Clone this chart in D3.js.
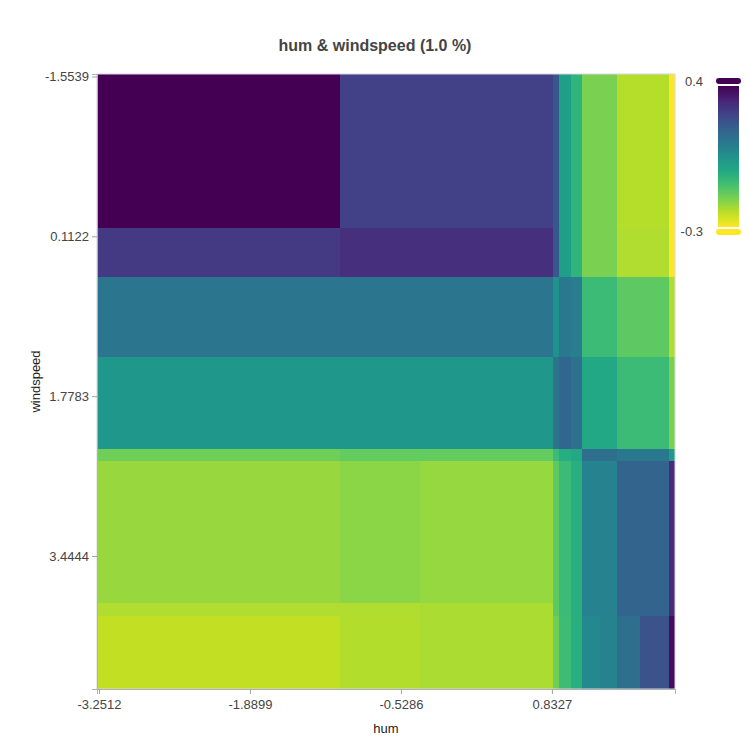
<!DOCTYPE html>
<html>
<head>
<meta charset="utf-8">
<script src="https://cdn.jsdelivr.net/npm/d3@7"></script>
<style>
    body { margin: 0; background: #fff; }
    svg text { font-family: "Liberation Sans", Arial, sans-serif; }
</style>
</head>
<body>
<svg id="chart" width="750" height="750"></svg>
<script>
/*
    hum & windspeed interaction heatmap (block cells, viridis).
*/

// bin edges
var humEdges = [-3.2692, -1.0781, -0.3567, 0.8426, 0.8967, 1.0049, 1.1041, 1.2664, 1.4197, 1.6271, 1.8886, 1.9427];
var windEdges = [-1.5800, 0.0254, 0.5362, 1.3701, 2.3291, 2.4542, 3.9345, 4.0700, 4.8310];

var humTicks = [-3.2512, -1.8899, -0.5286, 0.8327];
var windTicks = [-1.5539, 0.1122, 1.7783, 3.4444];

// one row per windspeed bin (top to bottom), one column per hum bin
var zValues = [
    [0.400, 0.267, 0.267, 0.211, 0.008, -0.055, -0.160, -0.160, -0.223, -0.223, -0.300],
    [0.280, 0.302, 0.302, 0.211, 0.008, -0.055, -0.160, -0.160, -0.216, -0.216, -0.300],
    [0.127, 0.127, 0.127, 0.050, 0.120, 0.106, -0.076, -0.076, -0.125, -0.125, -0.216],
    [0.029, 0.029, 0.029, 0.134, 0.169, 0.141, -0.020, -0.020, -0.076, -0.076, -0.160],
    [-0.146, -0.132, -0.132, -0.076, -0.034, -0.020, 0.148, 0.148, 0.120, 0.120, 0.015],
    [-0.192, -0.178, -0.188, -0.125, -0.076, -0.041, 0.092, 0.092, 0.176, 0.176, 0.316],
    [-0.216, -0.216, -0.212, -0.125, -0.076, -0.041, 0.092, 0.092, 0.176, 0.176, 0.316],
    [-0.235, -0.220, -0.212, -0.146, -0.083, -0.041, 0.071, 0.092, 0.148, 0.225, 0.379]
];

var zTicks = [0.4, -0.3];

var svg = d3.select("#chart");

var x = d3.scaleLinear()
    .domain([humEdges[0], humEdges[humEdges.length - 1]])
    .range([97, 675]);
var y = d3.scaleLinear()
    .domain([windEdges[0], windEdges[windEdges.length - 1]])
    .range([74, 689]);
var color = d3.scaleSequential(d3.interpolateViridis).domain(zTicks);

// flatten the matrix into cells
var cells = [];
zValues.forEach(function(row, i) {
    row.forEach(function(z, j) {
        cells.push({i: i, j: j, z: z});
    });
});

svg.append("g").attr("class", "cells")
    .selectAll("rect")
    .data(cells)
    .enter().append("rect")
        .attr("x", function(d) { return x(humEdges[d.j]); })
        .attr("y", function(d) { return y(windEdges[d.i]); })
        .attr("width", function(d) { return x(humEdges[d.j + 1]) - x(humEdges[d.j]); })
        .attr("height", function(d) { return y(windEdges[d.i + 1]) - y(windEdges[d.i]); })
        .attr("fill", function(d) { return color(d.z); })
        .attr("shape-rendering", "crispEdges");

// frame
svg.append("rect")
    .attr("x", 97).attr("y", 74)
    .attr("width", 578).attr("height", 615)
    .attr("fill", "none")
    .attr("stroke", "#d8d8e0")
    .attr("stroke-width", 1);

function fmt(d) { return d.toFixed(4); }

var xAxis = svg.append("g")
    .attr("transform", "translate(0,689)")
    .call(d3.axisBottom(x).tickValues(humTicks).tickFormat(fmt).tickSize(5).tickPadding(6));
var yAxis = svg.append("g")
    .attr("transform", "translate(97,0)")
    .call(d3.axisLeft(y).tickValues(windTicks).tickFormat(fmt).tickSize(5).tickPadding(3));

[xAxis, yAxis].forEach(function(g) {
    g.select(".domain").attr("stroke", "#b0b0b0");
    g.selectAll(".tick line").attr("stroke", "#a0a0a0");
    g.selectAll(".tick text")
        .attr("fill", "#444")
        .style("font-size", "13px")
        .style("font-family", '"Liberation Sans", Arial, sans-serif');
});

// titles
svg.append("text")
    .attr("x", 375).attr("y", 51)
    .attr("text-anchor", "middle")
    .attr("fill", "#444")
    .style("font-size", "16px")
    .style("font-weight", "bold")
    .text("hum & windspeed (1.0 %)");

svg.append("text")
    .attr("x", 386).attr("y", 733)
    .attr("text-anchor", "middle")
    .attr("fill", "#222")
    .style("font-size", "13px")
    .text("hum");

svg.append("text")
    .attr("transform", "translate(40,381.5) rotate(-90)")
    .attr("text-anchor", "middle")
    .attr("fill", "#222")
    .style("font-size", "13px")
    .text("windspeed");

// colorbar
var grad = svg.append("defs").append("linearGradient")
    .attr("id", "cbar")
    .attr("x1", 0).attr("y1", 0).attr("x2", 0).attr("y2", 1);
d3.range(0, 1.0001, 0.1).forEach(function(t) {
    grad.append("stop")
        .attr("offset", t)
        .attr("stop-color", d3.interpolateViridis(t));
});

var cb = svg.append("g").attr("class", "colorbar");
cb.append("rect")
    .attr("x", 716).attr("y", 78).attr("width", 25).attr("height", 6).attr("rx", 3)
    .attr("fill", color(zTicks[0]));
cb.append("rect")
    .attr("x", 718).attr("y", 86).attr("width", 21).attr("height", 141)
    .attr("fill", "url(#cbar)");
cb.append("rect")
    .attr("x", 716).attr("y", 229).attr("width", 25).attr("height", 6).attr("rx", 3)
    .attr("fill", color(zTicks[1]));

cb.selectAll("text.lbl")
    .data(zTicks)
    .enter().append("text")
        .attr("class", "lbl")
        .attr("x", 703)
        .attr("y", function(d, i) { return i === 0 ? 86 : 236; })
        .attr("text-anchor", "end")
        .attr("fill", "#444")
        .style("font-size", "13px")
        .text(function(d) { return d.toFixed(1); });
</script>
</body>
</html>
